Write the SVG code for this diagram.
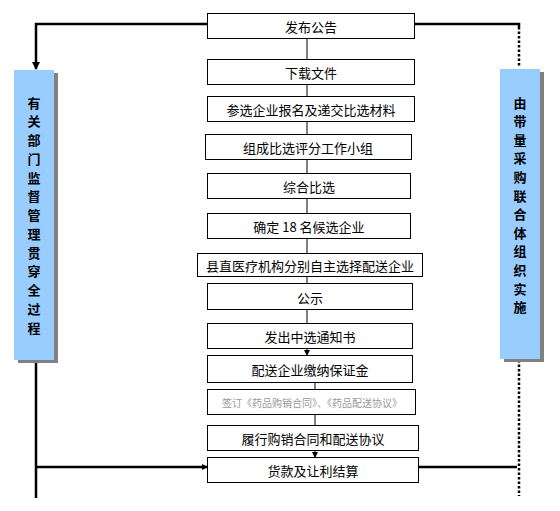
<svg xmlns="http://www.w3.org/2000/svg" width="560" height="511" viewBox="0 0 560 511">
<style>
.box{fill:#fff;stroke:#000;stroke-width:1}
.t{font-family:"Noto Sans CJK SC","Liberation Sans",sans-serif;font-size:13px;fill:#000;text-anchor:middle;dominant-baseline:central}
.ts{font-family:"Noto Sans CJK SC","Liberation Sans",sans-serif;font-size:10px;fill:#999;text-anchor:middle;dominant-baseline:central}
.bar{fill:#99ccff}
.sh{fill:#808080}
.bt{font-family:"Noto Sans CJK SC","Liberation Sans",sans-serif;font-size:13px;font-weight:bold;fill:#000;text-anchor:middle;dominant-baseline:central}
.c{stroke:#808080;stroke-width:2;fill:none}
.k{stroke:#000;stroke-width:2.5;fill:none}
.d{stroke:#000;stroke-width:2.5;fill:none;stroke-dasharray:2.5 2}
</style>
<defs>
<marker id="ah" markerWidth="6" markerHeight="6" refX="5" refY="3" orient="auto" markerUnits="userSpaceOnUse">
<path d="M0,0 L6,3 L0,6 z" fill="#000"/>
</marker>
<marker id="ah2" markerWidth="8" markerHeight="8" refX="7" refY="4" orient="auto" markerUnits="userSpaceOnUse">
<path d="M0,0 L8,4 L0,8 z" fill="#000"/>
</marker>
</defs>
<g id="connectors">
<line class="c" x1="307" y1="38" x2="307" y2="60"/>
<line class="c" x1="307" y1="84" x2="307" y2="97"/>
<line class="c" x1="307" y1="121" x2="307" y2="134"/>
<line class="c" x1="307" y1="160" x2="307" y2="173"/>
<line class="c" x1="307" y1="198" x2="307" y2="213"/>
<line class="c" x1="307" y1="238" x2="307" y2="253"/>
<line class="c" x1="307" y1="277" x2="307" y2="283"/>
<line class="c" x1="307" y1="310" x2="307" y2="324"/>
<line class="c" x1="307" y1="348" x2="307" y2="355" marker-end="url(#ah)"/>
<line class="c" x1="315" y1="383" x2="315" y2="389"/>
<line class="c" x1="315" y1="414" x2="315" y2="425"/>
<line class="c" x1="315" y1="450" x2="315" y2="457" marker-end="url(#ah)"/>
<polyline class="k" points="207,24 36,24 36,69" marker-end="url(#ah2)"/>
<line class="k" x1="36" y1="362" x2="36" y2="498"/>
<line class="k" x1="36" y1="467" x2="207" y2="467" marker-end="url(#ah)"/>
<polyline class="k" points="415,24 519,24 519,27"/>
<line class="d" x1="519" y1="27" x2="519" y2="66"/>
<line class="d" x1="519" y1="360" x2="519" y2="496"/>
<line class="k" x1="418" y1="467" x2="517" y2="467"/>
</g>
<g id="n1"><rect class="box" x="207.5" y="13.5" width="207" height="25"/><text class="t" x="311" y="26">发布公告</text></g>
<g id="n2"><rect class="box" x="207.5" y="59.5" width="207" height="25"/><text class="t" x="311" y="72">下载文件</text></g>
<g id="n3"><rect class="box" x="207.5" y="96.5" width="207" height="25"/><text class="t" x="311" y="109">参选企业报名及递交比选材料</text></g>
<g id="n4"><rect class="box" x="205.5" y="134.5" width="206" height="25"/><text class="t" x="308" y="147">组成比选评分工作小组</text></g>
<g id="n5"><rect class="box" x="207.5" y="173.5" width="203" height="25"/><text class="t" x="309" y="186">综合比选</text></g>
<g id="n6"><rect class="box" x="207.5" y="213.5" width="203" height="25"/><text class="t" x="309" y="226">确定 18 名候选企业</text></g>
<g id="n7"><rect class="box" x="197.5" y="253.5" width="225" height="23"/><text class="t" x="310" y="265">县直医疗机构分别自主选择配送企业</text></g>
<g id="n8"><rect class="box" x="207.5" y="283.5" width="205" height="26"/><text class="t" x="310" y="297">公示</text></g>
<g id="n9"><rect class="box" x="207.5" y="323.5" width="205" height="25"/><text class="t" x="310" y="336">发出中选通知书</text></g>
<g id="n10"><rect class="box" x="207.5" y="355.5" width="205" height="27"/><text class="t" x="310" y="369">配送企业缴纳保证金</text></g>
<g id="n11"><rect class="box" x="207.5" y="389.5" width="208" height="25"/><text class="ts" x="312" y="402">签订《药品购销合同》、《药品配送协议》</text></g>
<g id="n12"><rect class="box" x="207.5" y="425.5" width="211" height="25"/><text class="t" x="313" y="438">履行购销合同和配送协议</text></g>
<g id="n13"><rect class="box" x="207.5" y="457.5" width="211" height="25"/><text class="t" x="313" y="470">货款及让利结算</text></g>
<g id="left">
<rect class="sh" x="18" y="73" width="40" height="290"/>
<rect class="bar" x="14" y="70" width="40" height="290"/>
<text class="bt" x="34" y="102">有</text><text class="bt" x="34" y="120.75">关</text><text class="bt" x="34" y="139.5">部</text><text class="bt" x="34" y="158.25">门</text><text class="bt" x="34" y="177">监</text><text class="bt" x="34" y="195.75">督</text><text class="bt" x="34" y="214.5">管</text><text class="bt" x="34" y="233.25">理</text><text class="bt" x="34" y="252">贯</text><text class="bt" x="34" y="270.75">穿</text><text class="bt" x="34" y="289.5">全</text><text class="bt" x="34" y="308.25">过</text><text class="bt" x="34" y="327">程</text>
</g>
<g id="right">
<rect class="sh" x="504" y="72" width="40" height="290"/>
<rect class="bar" x="500" y="69" width="40" height="290"/>
<text class="bt" x="520" y="102">由</text><text class="bt" x="520" y="120.6">带</text><text class="bt" x="520" y="139.2">量</text><text class="bt" x="520" y="157.8">采</text><text class="bt" x="520" y="176.4">购</text><text class="bt" x="520" y="195">联</text><text class="bt" x="520" y="213.6">合</text><text class="bt" x="520" y="232.2">体</text><text class="bt" x="520" y="250.8">组</text><text class="bt" x="520" y="269.4">织</text><text class="bt" x="520" y="288">实</text><text class="bt" x="520" y="306.6">施</text>
</g>
</svg>
